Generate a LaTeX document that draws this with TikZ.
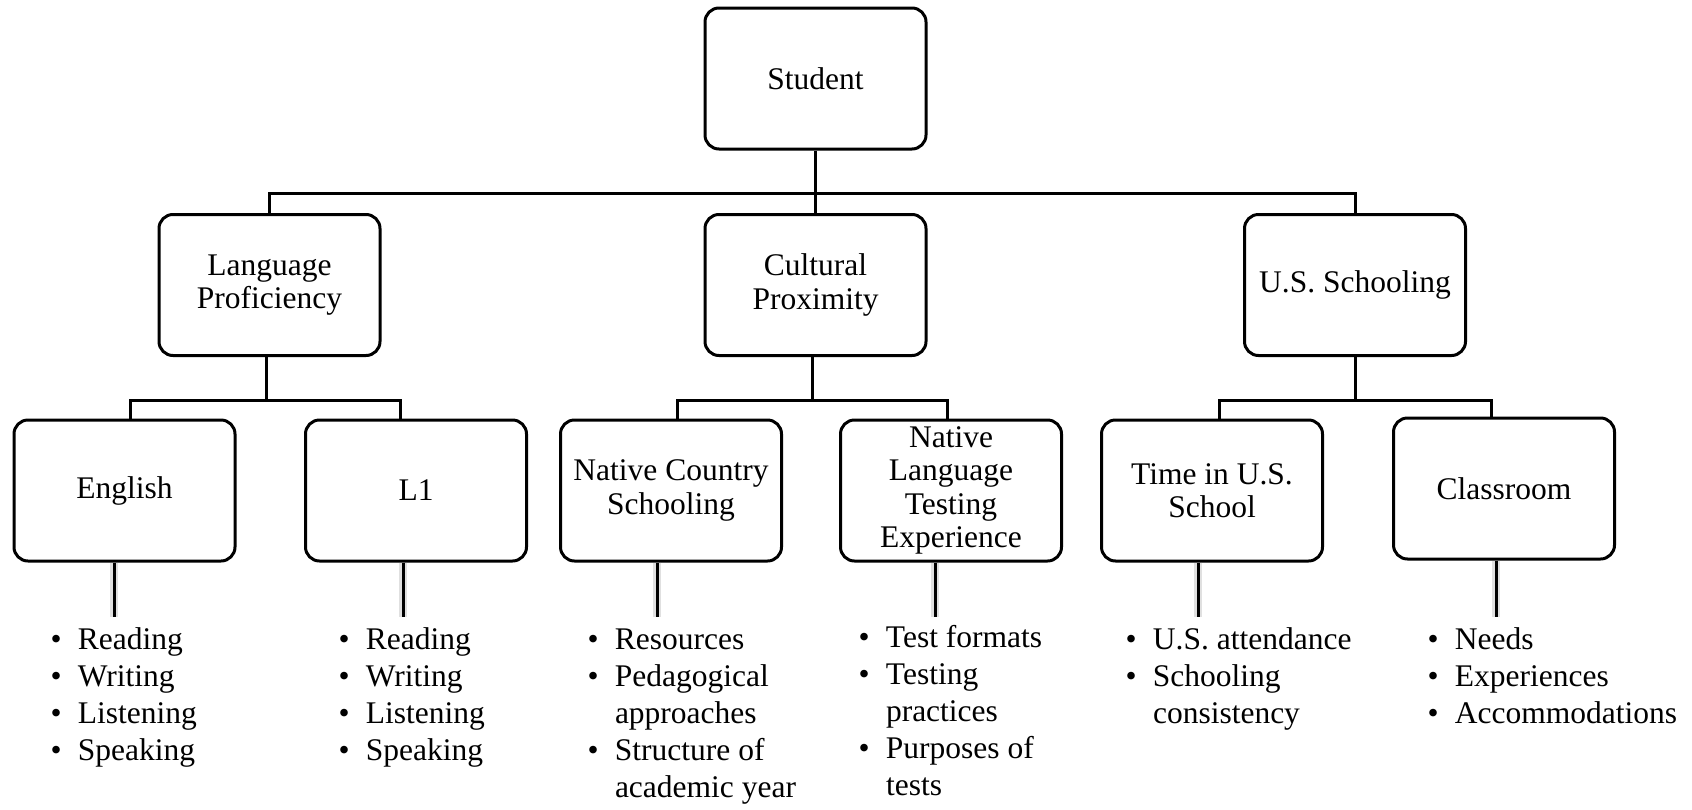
\documentclass[tikz,border=0pt]{standalone}
\usepackage{fontspec}
\setmainfont{Liberation Serif}
\newcommand{\boxfont}{\fontsize{15.75}{16.6}\selectfont}
\newcommand{\listfont}{\fontsize{15.75}{18.6}\selectfont}
\newenvironment{blist}{\begin{tabular}[t]{@{}p{13.75pt}@{}l@{}}}{\end{tabular}}

\begin{document}
\begin{tikzpicture}[
  x=0.5pt, y=-0.5pt,
  line width=1.5pt,
  box/.style={draw, rounded corners=7pt, minimum width=110.5pt, minimum height=70.5pt,
              inner sep=2pt, align=center, font=\boxfont},
  list/.style={anchor=base west, inner sep=0pt, font=\listfont},
  stem/.style={preaction={draw, black!12, line width=4pt}}
]
\useasboundingbox (0,0) rectangle (1692,809);

% boxes
\node[box] (student) at (815.5,78.5) {Student};
\node[box] (lang)    at (269.5,285)  {Language\\Proficiency};
\node[box] (cult)    at (815.5,285)  {Cultural\\Proximity};
\node[box] (usch)    at (1355,285)   {U.S. Schooling};

\node[box] (english) at (124.5,490.5) {English};
\node[box] (lone)    at (416,490.5)   {L1};
\node[box] (ncs)     at (671,490.5)   {Native Country\\Schooling};
\node[box] (nlte)    at (951,490.5)   {Native\\Language\\Testing\\Experience};
\node[box] (time)    at (1212,490.5)  {Time in U.S.\\School};
\node[box] (room)    at (1504,488.5)  {Classroom};

% first level
\coordinate (top-bus) at (815.5,193);
\draw (student.south) -- (top-bus);
\draw (lang.north) |- (top-bus) -| (usch.north);
\draw (top-bus) -- (cult.north);

% second level
\coordinate (lang-bus) at (266,400);
\coordinate (cult-bus) at (812,400);
\coordinate (usch-bus) at (1355,400);
\draw (lang.south -| lang-bus) -- (lang-bus);
\draw (cult.south -| cult-bus) -- (cult-bus);
\draw (usch.south -| usch-bus) -- (usch-bus);
\draw ([xshift=3pt]english.north) |- (lang-bus) -| ([xshift=-8pt]lone.north);
\draw ([xshift=3pt]ncs.north) |- (cult-bus) -| ([xshift=-2pt]nlte.north);
\draw ([xshift=3.5pt]time.north) |- (usch-bus) -| ([xshift=-6.5pt]room.north);

% stems down to the lists
\coordinate (english-end) at (114,617);
\coordinate (lone-end)    at (403,617);
\coordinate (ncs-end)     at (657,617);
\coordinate (nlte-end)    at (935,617);
\coordinate (time-end)    at (1198,617);
\coordinate (room-end)    at (1496,617);
\draw[stem] (english.south -| english-end) -- (english-end);
\draw[stem] (lone.south -| lone-end) -- (lone-end);
\draw[stem] (ncs.south -| ncs-end) -- (ncs-end);
\draw[stem] (nlte.south -| nlte-end) -- (nlte-end);
\draw[stem] (time.south -| time-end) -- (time-end);
\draw[stem] (room.south -| room-end) -- (room-end);

% lists
\node[list] (english-list) at (49,649) {\begin{blist}
  \textbullet & Reading\\ \textbullet & Writing\\ \textbullet & Listening\\ \textbullet & Speaking
\end{blist}};
\node[list] (lone-list) at (337,649) {\begin{blist}
  \textbullet & Reading\\ \textbullet & Writing\\ \textbullet & Listening\\ \textbullet & Speaking
\end{blist}};
\node[list] (ncs-list) at (586,649) {\begin{blist}
  \textbullet & Resources\\ \textbullet & Pedagogical\\ & approaches\\ \textbullet & Structure of\\ & academic year
\end{blist}};
\node[list] (nlte-list) at (857,647) {\begin{blist}
  \textbullet & Test formats\\ \textbullet & Testing\\ & practices\\ \textbullet & Purposes of\\ & tests
\end{blist}};
\node[list] (time-list) at (1124,649) {\begin{blist}
  \textbullet & U.S. attendance\\ \textbullet & Schooling\\ & consistency
\end{blist}};
\node[list] (room-list) at (1426,649) {\begin{blist}
  \textbullet & Needs\\ \textbullet & Experiences\\ \textbullet & Accommodations
\end{blist}};
\end{tikzpicture}
\end{document}
